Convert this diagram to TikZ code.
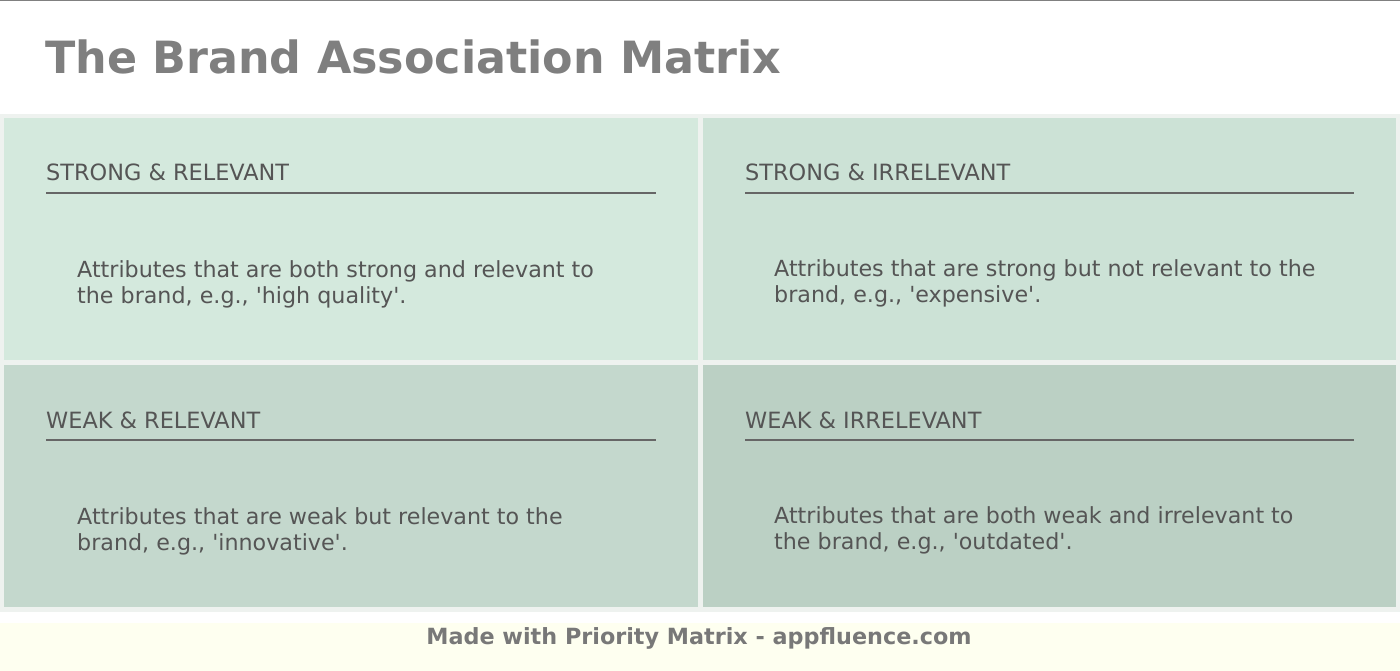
\documentclass[tikz,border=0pt]{standalone}
\usepackage{fontspec}
\setmainfont{DejaVu Sans}
\definecolor{titlegray}{HTML}{7F7F7F}
\definecolor{textgray}{HTML}{555555}
\definecolor{linegray}{HTML}{666666}
\definecolor{gridbg}{HTML}{EEF2EF}
\definecolor{cellA}{HTML}{D4E9DD}
\definecolor{cellB}{HTML}{CCE2D6}
\definecolor{cellC}{HTML}{C4D8CD}
\definecolor{cellD}{HTML}{BBD0C4}
\definecolor{footbg}{HTML}{FEFFF0}
\definecolor{footgray}{HTML}{787878}
\newcommand{\sq}{\textquotesingle}
\begin{document}
\begin{tikzpicture}[x=1pt,y=-1pt,
  hdr/.style={anchor=base west,inner sep=0pt,text=textgray,font=\fontsize{22.4}{26}\selectfont},
  body/.style={anchor=base west,inner sep=0pt,text=textgray,font=\fontsize{22.2}{26}\selectfont,align=left},
  rule/.style={draw=linegray,line width=1.2pt}]
\useasboundingbox (0,0) rectangle (1400,671);
\fill[white] (0,0) rectangle (1400,671);
\draw[draw=gray,line width=1.5pt] (0,0.75) -- (1400,0.75);
\node[anchor=base west,inner sep=0pt,text=titlegray,font=\bfseries\fontsize{44.4}{52}\selectfont] (title) at (45,74) {The Brand Association Matrix};
% grid background
\fill[gridbg] (0,114) rectangle (1400,612);
\fill[cellA] (4,118) rectangle (698,360);
\fill[cellB] (703,118) rectangle (1396,360);
\fill[cellC] (4,365) rectangle (698,607);
\fill[cellD] (703,365) rectangle (1396,607);
% TL
\node[hdr] (h1) at (46,181) {STRONG \& RELEVANT};
\draw[rule] (46,193) -- (656,193);
\node[body] (b1) at (77,303) {Attributes that are both strong and relevant to\\the brand, e.g., \sq high quality\sq.};
% TR
\node[hdr] (h2) at (745,181) {STRONG \& IRRELEVANT};
\draw[rule] (745,193) -- (1354,193);
\node[body] (b2) at (774,302) {Attributes that are strong but not relevant to the\\brand, e.g., \sq expensive\sq.};
% BL
\node[hdr] (h3) at (46,428) {WEAK \& RELEVANT};
\draw[rule] (46,440) -- (656,440);
\node[body] (b3) at (77,550) {Attributes that are weak but relevant to the\\brand, e.g., \sq innovative\sq.};
% BR
\node[hdr] (h4) at (745,428) {WEAK \& IRRELEVANT};
\draw[rule] (745,440) -- (1354,440);
\node[body] (b4) at (774,549) {Attributes that are both weak and irrelevant to\\the brand, e.g., \sq outdated\sq.};
% footer
\fill[footbg] (0,623) rectangle (1400,671);
\node[anchor=base,inner sep=0pt,text=footgray,font=\bfseries\fontsize{22.3}{26}\selectfont] (foot) at (699,644) {Made with Priority Matrix - appfluence.com};
\end{tikzpicture}
\end{document}
